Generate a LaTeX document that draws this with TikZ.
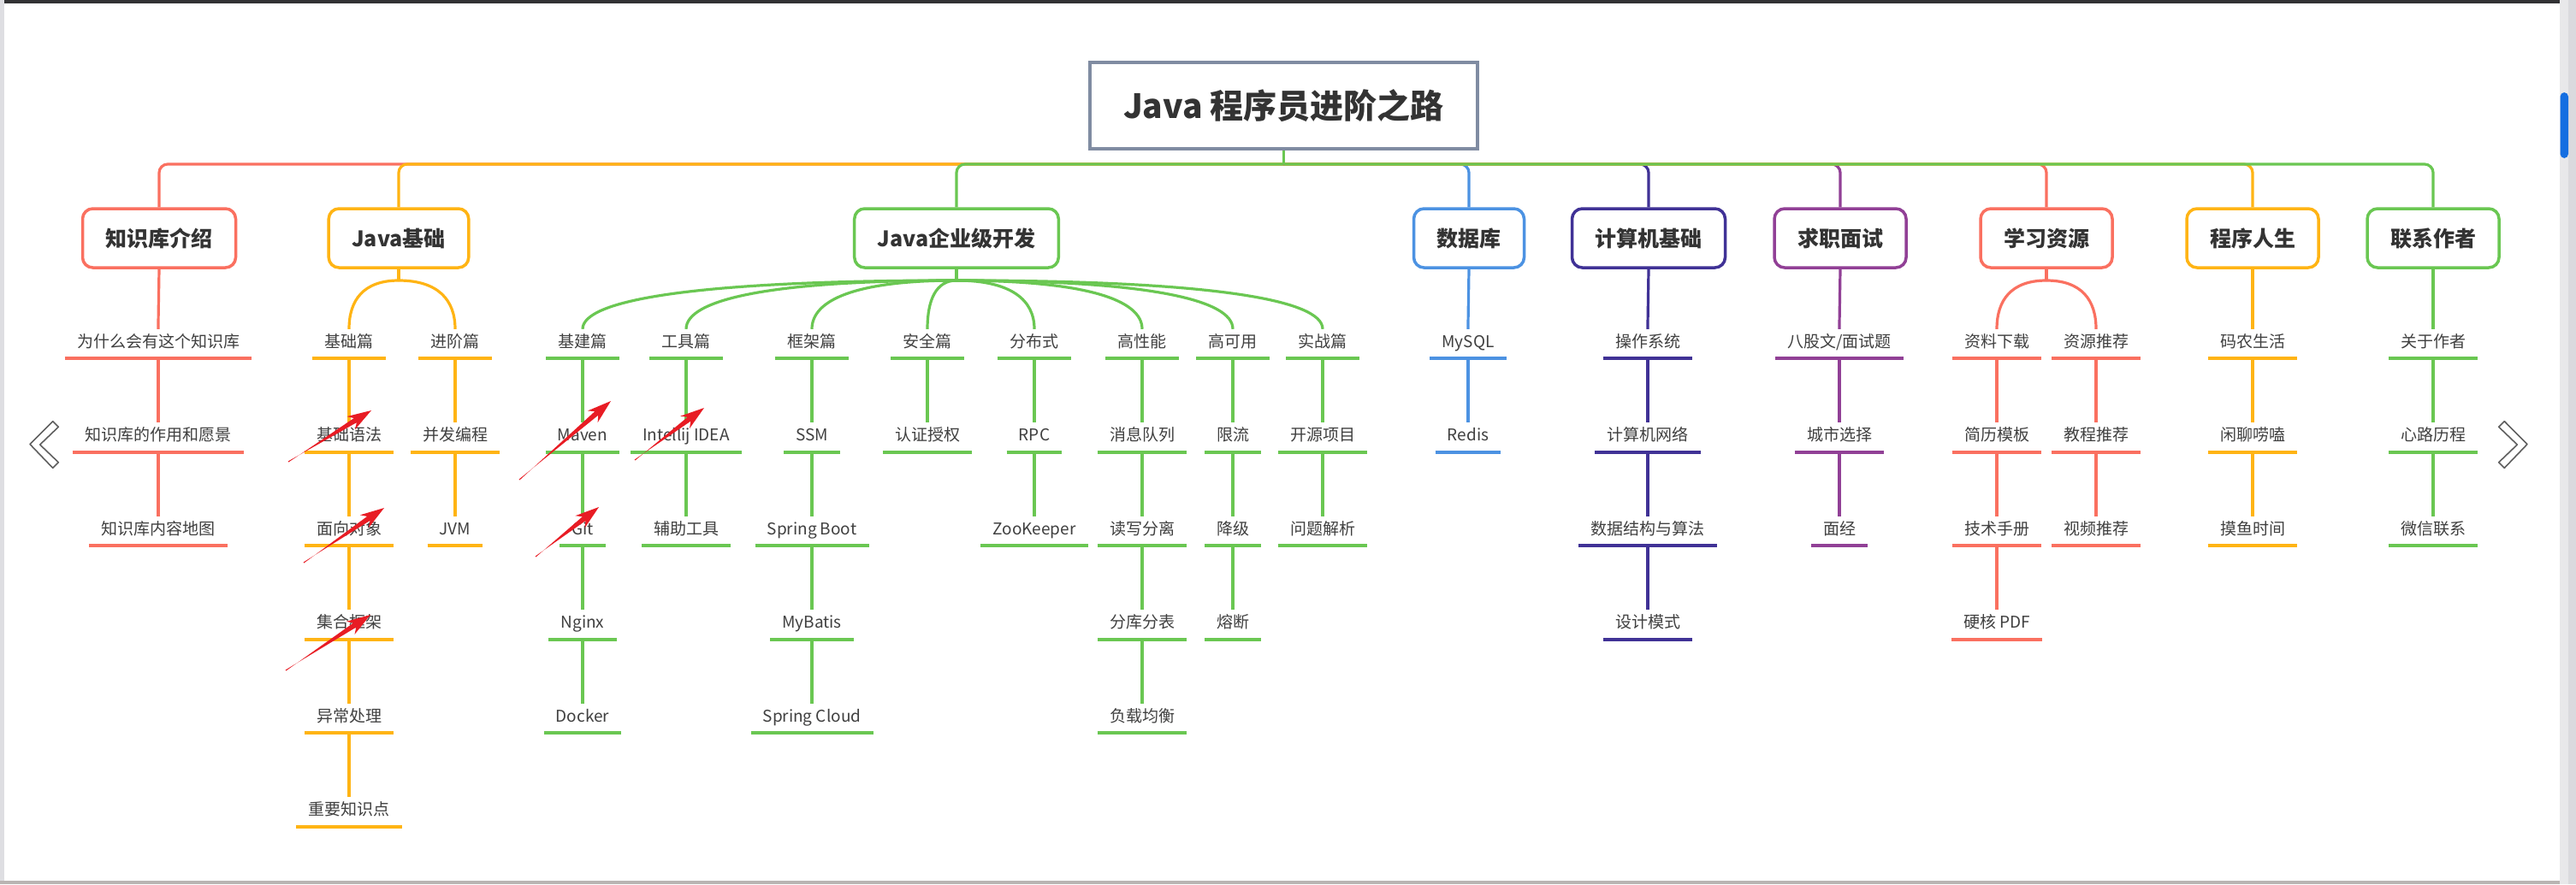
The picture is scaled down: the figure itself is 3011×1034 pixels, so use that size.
\documentclass[tikz,border=0pt]{standalone}
\usepackage{fontspec}
\setmainfont{Noto Sans CJK SC}
\usetikzlibrary{calc}

\definecolor{cred}{RGB}{250,112,96}
\definecolor{corange}{RGB}{255,180,20}
\definecolor{cgreen}{RGB}{106,199,82}
\definecolor{cblue}{RGB}{76,146,226}
\definecolor{cindigo}{RGB}{64,50,150}
\definecolor{cpurple}{RGB}{145,64,150}
\definecolor{rootline}{RGB}{128,140,162}
\definecolor{headtext}{RGB}{51,51,51}
\definecolor{leaftext}{RGB}{64,64,64}
\definecolor{markred}{RGB}{232,28,36}
\definecolor{chevron}{RGB}{95,95,95}
\definecolor{topbar}{RGB}{50,50,52}
\definecolor{sidebar}{RGB}{222,222,226}
\definecolor{scrolltrack}{RGB}{232,232,234}
\definecolor{scrolledge}{RGB}{218,218,222}
\definecolor{cscroll}{RGB}{20,110,225}
\definecolor{bottomline}{RGB}{185,180,178}

% tapered red pointer from tail #1 to tip #2
\newcommand\pointer[2]{%
  \fill[markred] ($(#1)!0.6pt!90:(#2)$)
    -- ($(#2)!22pt!(#1)!3pt!90:(#1)$)
    -- ($(#2)!28pt!(#1)!9pt!90:(#1)$)
    -- (#2)
    -- ($(#2)!28pt!(#1)!9pt!-90:(#1)$)
    -- ($(#2)!22pt!(#1)!3pt!-90:(#1)$)
    -- ($(#1)!0.6pt!-90:(#2)$)
    -- cycle;}

\begin{document}
\begin{tikzpicture}[x=1pt, y=-1pt,
  root/.style={draw=rootline, line width=4pt, fill=white, minimum width=453pt,
    minimum height=101pt, text height=33pt, text depth=3pt,
    font=\fontsize{39}{46}\selectfont\bfseries, text=headtext},
  branch/.style={draw=#1, line width=3.5pt, rounded corners=12pt, fill=white,
    minimum height=69pt, inner xsep=27pt, text height=21pt, text depth=2pt,
    font=\fontsize{25}{30}\selectfont\bfseries, text=headtext},
  leaf/.style={inner xsep=14pt, inner ysep=11pt, text height=16pt, text depth=2pt,
    font=\fontsize{19}{23}\selectfont, text=leaftext,
    append after command={(\tikzlastnode.south west) edge[draw=#1, line width=4pt]
      (\tikzlastnode.south east)}},
  link/.style={draw=#1, line width=3.2pt},
  twig/.style={link=#1, shorten >=-6pt},
]

% Window
\fill[white] (0,0) rectangle (3011,1034);
\fill[topbar] (0,0) rectangle (2992,3.5);
\fill[sidebar] (0,0) rectangle (5,1034);
\fill[bottomline] (0,1030) rectangle (2992,1034);
\fill[scrolltrack] (2992,0) rectangle (3011,1034);
\fill[scrolledge] (3002,0) rectangle (3011,1034);
\fill[cscroll, rounded corners=5pt] (2992.5,108) rectangle (3002,185);
\useasboundingbox (0,0) rectangle (3011,1034);

% Chevrons
\draw[chevron, line width=1.6pt, line join=round]
  (35,519.5) -- (61.7,492.7) -- (68.3,499.3) -- (46.7,520) -- (68.3,540.7) -- (61.7,547.3) -- cycle;
\draw[chevron, line width=1.6pt, line join=round]
  (2954,519.5) -- (2927.3,492.7) -- (2920.7,499.3) -- (2942.3,520) -- (2920.7,540.7) -- (2927.3,547.3) -- cycle;

% Root and main branches
\node[root] (root) at (1500.5,123.5) {Java 程序员进阶之路};
\node[branch=cred]    (kb)   at (186,278.5)  {知识库介绍};
\node[branch=corange] (jb)   at (466,278.5)  {Java基础};
\node[branch=cgreen]  (je)   at (1118,278.5) {Java企业级开发};
\node[branch=cblue]   (db)   at (1717,278.5) {数据库};
\node[branch=cindigo] (cs)   at (1927,278.5) {计算机基础};
\node[branch=cpurple] (job)  at (2151,278.5) {求职面试};
\node[branch=cred]    (res)  at (2392,278.5) {学习资源};
\node[branch=corange] (life) at (2633,278.5) {程序人生};
\node[branch=cgreen]  (me)   at (2844,278.5) {联系作者};

% Bus - left side, outer branch first
\coordinate (hub) at (1500.5,192);
\draw[link=cred, rounded corners=10pt] (hub) -| (kb.north);
\draw[link=corange, rounded corners=10pt] (hub) -| (jb.north);
\draw[link=cgreen, rounded corners=10pt] (hub) -| (je.north);
% Bus - right side, outer branch last
\draw[link=cblue, rounded corners=10pt] (hub) -| (db.north);
\draw[link=cindigo, rounded corners=10pt] (hub) -| (cs.north);
\draw[link=cpurple, rounded corners=10pt] (hub) -| (job.north);
\draw[link=cred, rounded corners=10pt] (hub) -| (res.north);
\draw[link=corange, rounded corners=10pt] (hub) -| (life.north);
\draw[link=cgreen, rounded corners=10pt] (hub) -| (me.north);
\draw[link=cgreen] (root.south) -- (hub);

% Leaves - 知识库介绍
\node[leaf=cred] (kb1) at (185,399)   {为什么会有这个知识库};
\node[leaf=cred] (kb2) at (185,508.5) {知识库的作用和愿景};
\node[leaf=cred] (kb3) at (185,618)   {知识库内容地图};
\draw[twig=cred] (kb.south) edge (kb1.north) (kb1.south) edge (kb2.north)
  (kb2.south) edge (kb3.north);

% Leaves - Java基础
\node[leaf=corange] (ba0) at (408,399)   {基础篇};
\node[leaf=corange] (ba1) at (408,508.5) {基础语法};
\node[leaf=corange] (ba2) at (408,618)   {面向对象};
\node[leaf=corange] (ba3) at (408,727.5) {集合框架};
\node[leaf=corange] (ba4) at (408,837)   {异常处理};
\node[leaf=corange] (ba5) at (408,946.5) {重要知识点};
\node[leaf=corange] (ad0) at (532,399)   {进阶篇};
\node[leaf=corange] (ad1) at (532,508.5) {并发编程};
\node[leaf=corange] (ad2) at (532,618)   {JVM};
\coordinate (jbfork) at (466,328);
\draw[link=corange] (jb.south) -- (jbfork);
\draw[twig=corange] (jbfork) .. controls +(-41,0) and +(0,-28) .. (ba0.north);
\draw[twig=corange] (jbfork) .. controls +(46,0) and +(0,-28) .. (ad0.north);
\draw[twig=corange] (ba0.south) edge (ba1.north) (ba1.south) edge (ba2.north)
  (ba2.south) edge (ba3.north) (ba3.south) edge (ba4.north) (ba4.south) edge (ba5.north)
  (ad0.south) edge (ad1.north) (ad1.south) edge (ad2.north);

% Leaves - Java企业级开发
\node[leaf=cgreen] (inf0) at (681,399)   {基建篇};
\node[leaf=cgreen] (inf1) at (681,508.5) {Maven};
\node[leaf=cgreen] (inf2) at (681,618)   {Git};
\node[leaf=cgreen] (inf3) at (681,727.5) {Nginx};
\node[leaf=cgreen] (inf4) at (681,837)   {Docker};
\node[leaf=cgreen] (tl0)  at (802,399)   {工具篇};
\node[leaf=cgreen] (tl1)  at (802,508.5) {Intellij IDEA};
\node[leaf=cgreen] (tl2)  at (802,618)   {辅助工具};
\node[leaf=cgreen] (fw0)  at (949,399)   {框架篇};
\node[leaf=cgreen] (fw1)  at (949,508.5) {SSM};
\node[leaf=cgreen] (fw2)  at (949,618)   {Spring Boot};
\node[leaf=cgreen] (fw3)  at (949,727.5) {MyBatis};
\node[leaf=cgreen] (fw4)  at (949,837)   {Spring Cloud};
\node[leaf=cgreen] (sec0) at (1084,399)   {安全篇};
\node[leaf=cgreen] (sec1) at (1084,508.5) {认证授权};
\node[leaf=cgreen] (dis0) at (1209,399)   {分布式};
\node[leaf=cgreen] (dis1) at (1209,508.5) {RPC};
\node[leaf=cgreen] (dis2) at (1209,618)   {ZooKeeper};
\node[leaf=cgreen] (hp0)  at (1335,399)   {高性能};
\node[leaf=cgreen] (hp1)  at (1335,508.5) {消息队列};
\node[leaf=cgreen] (hp2)  at (1335,618)   {读写分离};
\node[leaf=cgreen] (hp3)  at (1335,727.5) {分库分表};
\node[leaf=cgreen] (hp4)  at (1335,837)   {负载均衡};
\node[leaf=cgreen] (ha0)  at (1441,399)   {高可用};
\node[leaf=cgreen] (ha1)  at (1441,508.5) {限流};
\node[leaf=cgreen] (ha2)  at (1441,618)   {降级};
\node[leaf=cgreen] (ha3)  at (1441,727.5) {熔断};
\node[leaf=cgreen] (pr0)  at (1546,399)   {实战篇};
\node[leaf=cgreen] (pr1)  at (1546,508.5) {开源项目};
\node[leaf=cgreen] (pr2)  at (1546,618)   {问题解析};
\coordinate (jefork) at (1118,328);
\draw[link=cgreen] (je.south) -- (jefork);
\draw[twig=cgreen] (jefork) .. controls +(-306,0) and +(0,-28) .. (inf0.north);
\draw[twig=cgreen] (jefork) .. controls +(-221,0) and +(0,-28) .. (tl0.north);
\draw[twig=cgreen] (jefork) .. controls +(-118,0) and +(0,-28) .. (fw0.north);
\draw[twig=cgreen] (jefork) .. controls +(-24,0) and +(0,-28) .. (sec0.north);
\draw[twig=cgreen] (jefork) .. controls +(64,0) and +(0,-28) .. (dis0.north);
\draw[twig=cgreen] (jefork) .. controls +(152,0) and +(0,-28) .. (hp0.north);
\draw[twig=cgreen] (jefork) .. controls +(226,0) and +(0,-28) .. (ha0.north);
\draw[twig=cgreen] (jefork) .. controls +(300,0) and +(0,-28) .. (pr0.north);
\draw[twig=cgreen] (inf0.south) edge (inf1.north) (inf1.south) edge (inf2.north)
  (inf2.south) edge (inf3.north) (inf3.south) edge (inf4.north)
  (tl0.south) edge (tl1.north) (tl1.south) edge (tl2.north)
  (fw0.south) edge (fw1.north) (fw1.south) edge (fw2.north)
  (fw2.south) edge (fw3.north) (fw3.south) edge (fw4.north)
  (sec0.south) edge (sec1.north)
  (dis0.south) edge (dis1.north) (dis1.south) edge (dis2.north)
  (hp0.south) edge (hp1.north) (hp1.south) edge (hp2.north)
  (hp2.south) edge (hp3.north) (hp3.south) edge (hp4.north)
  (ha0.south) edge (ha1.north) (ha1.south) edge (ha2.north) (ha2.south) edge (ha3.north)
  (pr0.south) edge (pr1.north) (pr1.south) edge (pr2.north);

% Leaves - 数据库, 计算机基础, 求职面试
\node[leaf=cblue]   (db1) at (1716,399)   {MySQL};
\node[leaf=cblue]   (db2) at (1716,508.5) {Redis};
\node[leaf=cindigo] (cs1) at (1926,399)   {操作系统};
\node[leaf=cindigo] (cs2) at (1926,508.5) {计算机网络};
\node[leaf=cindigo] (cs3) at (1926,618)   {数据结构与算法};
\node[leaf=cindigo] (cs4) at (1926,727.5) {设计模式};
\node[leaf=cpurple] (iv1) at (2150,399)   {八股文/面试题};
\node[leaf=cpurple] (iv2) at (2150,508.5) {城市选择};
\node[leaf=cpurple] (iv3) at (2150,618)   {面经};
\draw[twig=cblue] (db.south) edge (db1.north) (db1.south) edge (db2.north);
\draw[twig=cindigo] (cs.south) edge (cs1.north) (cs1.south) edge (cs2.north)
  (cs2.south) edge (cs3.north) (cs3.south) edge (cs4.north);
\draw[twig=cpurple] (job.south) edge (iv1.north) (iv1.south) edge (iv2.north)
  (iv2.south) edge (iv3.north);

% Leaves - 学习资源
\node[leaf=cred] (dl0) at (2334,399)   {资料下载};
\node[leaf=cred] (dl1) at (2334,508.5) {简历模板};
\node[leaf=cred] (dl2) at (2334,618)   {技术手册};
\node[leaf=cred] (dl3) at (2334,727.5) {硬核 PDF};
\node[leaf=cred] (rc0) at (2450,399)   {资源推荐};
\node[leaf=cred] (rc1) at (2450,508.5) {教程推荐};
\node[leaf=cred] (rc2) at (2450,618)   {视频推荐};
\coordinate (resfork) at (2392,328);
\draw[link=cred] (res.south) -- (resfork);
\draw[twig=cred] (resfork) .. controls +(-41,0) and +(0,-28) .. (dl0.north);
\draw[twig=cred] (resfork) .. controls +(41,0) and +(0,-28) .. (rc0.north);
\draw[twig=cred] (dl0.south) edge (dl1.north) (dl1.south) edge (dl2.north)
  (dl2.south) edge (dl3.north) (rc0.south) edge (rc1.north) (rc1.south) edge (rc2.north);

% Leaves - 程序人生, 联系作者
\node[leaf=corange] (lf1) at (2633,399)   {码农生活};
\node[leaf=corange] (lf2) at (2633,508.5) {闲聊唠嗑};
\node[leaf=corange] (lf3) at (2633,618)   {摸鱼时间};
\node[leaf=cgreen]  (ab1) at (2844,399)   {关于作者};
\node[leaf=cgreen]  (ab2) at (2844,508.5) {心路历程};
\node[leaf=cgreen]  (ab3) at (2844,618)   {微信联系};
\draw[twig=corange] (life.south) edge (lf1.north) (lf1.south) edge (lf2.north)
  (lf2.south) edge (lf3.north);
\draw[twig=cgreen] (me.south) edge (ab1.north) (ab1.south) edge (ab2.north)
  (ab2.south) edge (ab3.north);

% Red pointers
\coordinate (p1t) at (337,540); \coordinate (p1h) at (434,480);
\coordinate (p2t) at (355,658); \coordinate (p2h) at (449,594);
\coordinate (p3t) at (334,784); \coordinate (p3h) at (433,719);
\coordinate (p4t) at (607,561); \coordinate (p4h) at (714,469);
\coordinate (p5t) at (626,651); \coordinate (p5h) at (700,593);
\coordinate (p6t) at (742,538); \coordinate (p6h) at (823,477);
\pointer{p1t}{p1h}
\pointer{p2t}{p2h}
\pointer{p3t}{p3h}
\pointer{p4t}{p4h}
\pointer{p5t}{p5h}
\pointer{p6t}{p6h}

\end{tikzpicture}
\end{document}
